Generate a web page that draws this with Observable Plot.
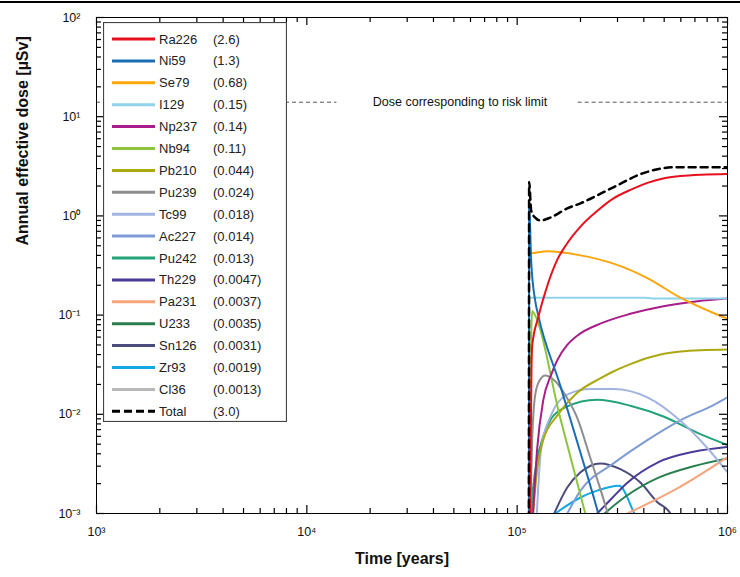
<!DOCTYPE html>
<html><head><meta charset="utf-8">
<script src="https://cdn.jsdelivr.net/npm/d3@7"></script>
<script src="https://cdn.jsdelivr.net/npm/@observablehq/plot@0.6"></script>
<style>
body{margin:0;background:#fff;font-family:"Liberation Sans",Arial,sans-serif;}
#wrap{position:relative;width:740px;height:577px;}
#topline{position:absolute;left:0;top:1px;width:740px;height:2px;background:#000;}
#legend{position:absolute;left:103px;top:22px;}
</style></head><body>
<div id="wrap"><div id="chart"></div><div id="topline"></div><div id="legend"></div></div>
<script>
// ---- legend / series metadata ----
const names = ["Ra226","Ni59","Se79","I129","Np237","Nb94","Pb210","Pu239","Tc99","Ac227","Pu242","Th229","Pa231","U233","Sn126","Zr93","Cl36"];
const maxLabels = ["(2.6)","(1.3)","(0.68)","(0.15)","(0.14)","(0.11)","(0.044)","(0.024)","(0.018)","(0.014)","(0.013)","(0.0047)","(0.0037)","(0.0035)","(0.0031)","(0.0019)","(0.0013)"];
const colors = ["#e8101e","#1a6db5","#fca60b","#8fd3eb","#a81d8a","#8cc43c","#aca80f","#8e8e8e","#a1b4e0","#7f9bd4","#22a37a","#4a3b98","#f7a57c","#2b7f4f","#4c4c7c","#12a8e2","#b8b8b8"];
const totalName = "Total";
const totalLabel = "(3.0)";

// ---- series values: [time (years), annual effective dose (µSv)] ----
const Ra226 = [[1.152e5,0.0006],[1.16e5,0.005],[1.17e5,0.03],[1.18e5,0.05],[1.26e5,0.095],[1.36e5,0.17],[1.55e5,0.36],[1.73e5,0.53],[2.0e5,0.78],[2.4e5,1.12],[2.87e5,1.5],[3.5e5,1.85],[4.16e5,2.15],[5.0e5,2.4],[5.97e5,2.52],[7.5e5,2.6],[1e6,2.64]];
const Ni59 = [[1.137e5,0.0005],[1.14e5,1.3],[1.166e5,0.35],[1.218e5,0.14],[1.259e5,0.1],[1.6e5,0.0197],[2.0e5,0.0041],[2.43e5,0.001],[2.5e5,0.0008]];
const Se79 = [[1.137e5,0.0005],[1.14e5,0.68],[1.153e5,0.42],[1.39e5,0.44],[2.0e5,0.40],[2.87e5,0.33],[4.16e5,0.236],[5.97e5,0.15],[8.58e5,0.105],[1e6,0.092]];
const I129 = [[1.137e5,0.0005],[1.14e5,0.15],[1.153e5,0.15],[4.0e5,0.15],[4.4e5,0.147],[1e6,0.147]];
const Np237 = [[1.19e5,0.001],[1.245e5,0.0045],[1.33e5,0.0138],[1.45e5,0.025],[1.55e5,0.035],[1.73e5,0.05],[1.93e5,0.062],[2.485e5,0.082],[3.45e5,0.103],[4.96e5,0.123],[7.2e5,0.138],[1e6,0.147]];
const Nb94 = [[1.14e5,0.0005],[1.153e5,0.003],[1.166e5,0.06],[1.179e5,0.11],[1.2e5,0.105],[1.6e5,0.0093],[2.108e5,0.001],[2.2e5,0.0007]];
const Pb210 = [[1.19e5,0.001],[1.245e5,0.0028],[1.33e5,0.0055],[1.55e5,0.0097],[1.73e5,0.013],[1.93e5,0.0165],[2.485e5,0.023],[2.865e5,0.027],[3.45e5,0.032],[4.16e5,0.037],[5.97e5,0.043],[1e6,0.045]];
const Pu239 = [[1.15e5,0.0008],[1.18e5,0.006],[1.22e5,0.016],[1.28e5,0.022],[1.36e5,0.0246],[1.5e5,0.022],[1.73e5,0.0145],[1.93e5,0.0092],[2.23e5,0.0036],[2.5e5,0.0017],[2.7e5,0.001],[2.8e5,0.0008]];
const Tc99 = [[1.24e5,0.001],[1.3e5,0.0045],[1.44e5,0.0095],[1.73e5,0.0158],[2.23e5,0.018],[2.87e5,0.018],[4.16e5,0.0148],[5.97e5,0.0086],[8.0e5,0.0046],[1e6,0.0026]];
const Ac227 = [[1.73e5,0.001],[2.0e5,0.0017],[2.87e5,0.0032],[4.16e5,0.0055],[5.97e5,0.0087],[8.58e5,0.0124],[1e6,0.0148]];
const Pu242 = [[1.17e5,0.0008],[1.19e5,0.0018],[1.33e5,0.006],[1.45e5,0.009],[1.7e5,0.0118],[2.4e5,0.014],[3.45e5,0.0122],[4.96e5,0.0095],[7.2e5,0.0065],[1e6,0.0049]];
const Th229 = [[2.4e5,0.001],[2.8e5,0.0014],[3.3e5,0.002],[4.7e5,0.0033],[6.9e5,0.0042],[1e6,0.0047]];
const Pa231 = [[3.34e5,0.001],[5.8e5,0.0018],[1e6,0.0037]];
const U233 = [[2.6e5,0.001],[3.3e5,0.0015],[4.7e5,0.0023],[6.9e5,0.003],[1e6,0.0036]];
const Sn126 = [[1.5e5,0.001],[1.73e5,0.00183],[2.0e5,0.0026],[2.485e5,0.0032],[3.094e5,0.0028],[3.853e5,0.00205],[4.642e5,0.0013],[5.353e5,0.001],[5.6e5,0.0008]];
const Zr93 = [[1.517e5,0.001],[2.0e5,0.00145],[2.4e5,0.0017],[3.05e5,0.0019],[3.607e5,0.001],[3.7e5,0.0009]];
const Cl36 = [[1.14e5,0.0005],[1.155e5,0.0013],[1.17e5,0.0009],[1.18e5,0.0006]];
const Total = [[1.137e5,0.0005],[1.14e5,2.2],[1.166e5,1.13],[1.218e5,0.96],[1.287e5,0.9],[1.436e5,0.96],[1.73e5,1.19],[2.0e5,1.34],[2.865e5,1.94],[3.98e5,2.7],[5.78e5,3.1],[1e6,3.1]];

// ---- risk limit ----
const riskDose = 14;
const riskSegments = [[1e3,1.39e4],[1.95e5,1e6]];
const riskText = "Dose corresponding to risk limit";
const riskTextTime = 5.35e4;

// ---- axes ----
const majorX = [1e3,1e4,1e5,1e6];
const majorY = [1e-3,1e-2,1e-1,1e0,1e1,1e2];
const mult = [2,3,4,5,6,7,8,9];
const minorX = majorX.slice(0,-1).flatMap(d => mult.map(m => d*m));
const minorY = majorY.slice(0,-1).flatMap(d => mult.map(m => d*m));
const xTitle = "Time [years]";
const yTitle = "Annual effective dose [µSv]";

const supMap = {"-":"⁻","0":"⁰","1":"¹","2":"²","3":"³","4":"⁴","5":"⁵","6":"⁶","7":"⁷","8":"⁸","9":"⁹"};
const fmt = d => "10" + String(Math.round(Math.log10(d))).split("").map(c => supMap[c]).join("");

const seriesArrays = [Ra226,Ni59,Se79,I129,Np237,Nb94,Pb210,Pu239,Tc99,Ac227,Pu242,Th229,Pa231,U233,Sn126,Zr93,Cl36];
const rows = names.flatMap((n,i) => seriesArrays[i].map(([t,v]) => ({n,t,v}))).reverse();
const totalRows = Total.map(([t,v]) => ({t,v}));
const riskRows = riskSegments.map(([a,b]) => ({a,b,v:riskDose}));

// layout
const W0 = 740, H0 = 577, mL = 96, mR = 13, mT = 17, mB = 64;
const fw = W0 - mL - mR, fh = H0 - mT - mB;

// inward ticks on all four sides, as insetted rules
const tickMarks = (vals, len, side) => {
  const o = {stroke: "#000", strokeWidth: 1.2};
  if (side === "bottom") return Plot.ruleX(vals, {...o, insetTop: fh - len});
  if (side === "top") return Plot.ruleX(vals, {...o, insetBottom: fh - len});
  if (side === "left") return Plot.ruleY(vals, {...o, insetRight: fw - len});
  return Plot.ruleY(vals, {...o, insetLeft: fw - len});
};

const font = "'Liberation Sans', Arial, sans-serif";
const plot = Plot.plot({
  width: W0, height: H0,
  marginLeft: mL, marginRight: mR, marginTop: mT, marginBottom: mB,
  style: {fontFamily: font, fontSize: "12px", color: "#111", background: "#fff"},
  x: {type: "log", domain: [1e3,1e6]},
  y: {type: "log", domain: [1e-3,1e2]},
  color: {domain: names, range: colors},
  marks: [
    Plot.ruleY(riskRows, {x1: "a", x2: "b", y: "v", stroke: "#555", strokeDasharray: "4,3", strokeWidth: 1}),
    Plot.text([riskText], {x: () => riskTextTime, y: () => riskDose, text: d => d, fontSize: 12.5, fill: "#111"}),
    Plot.line(rows, {x: "t", y: "v", z: "n", stroke: "n", strokeWidth: 2, curve: "monotone-x", clip: true}),
    Plot.line(totalRows, {x: "t", y: "v", stroke: "#000", strokeWidth: 2.5, strokeDasharray: "7,5", curve: "monotone-x", clip: true}),
    tickMarks(majorX, 8, "bottom"), tickMarks(minorX, 5, "bottom"),
    tickMarks(majorX, 8, "top"), tickMarks(minorX, 5, "top"),
    tickMarks(majorY, 8, "left"), tickMarks(minorY, 5, "left"),
    tickMarks(majorY, 8, "right"), tickMarks(minorY, 5, "right"),
    Plot.frame({stroke: "#000", strokeWidth: 1}),
    // tick labels
    Plot.axisX({anchor: "bottom", ticks: majorX, tickSize: 0, tickPadding: 14, tickFormat: fmt, label: null, fontSize: 12.5}),
    Plot.axisY({anchor: "left", ticks: majorY, tickSize: 0, tickPadding: 16, tickFormat: fmt, label: null, fontSize: 12.5}),
    // titles
    Plot.text([xTitle], {frameAnchor: "bottom", dy: 50, dx: -10, text: d => d, fontWeight: "bold", fontSize: 16, fill: "#111"}),
    Plot.text([yTitle], {frameAnchor: "left", rotate: -90, dx: -74, dy: -20, text: d => d, fontWeight: "bold", fontSize: 16, fill: "#111"})
  ]
});
document.getElementById("chart").appendChild(plot);

// ---- legend (HTML overlay built from the arrays) ----
const legNames = [...names, totalName];
const legLabels = [...maxLabels, totalLabel];
const legColors = [...colors, "#000"];
const W = 184, H = 400, rowH = 21.9, y0 = 17;
const svg = d3.select("#legend").append("svg").attr("width", W).attr("height", H)
  .style("font-family", font).style("font-size", "13px");
svg.append("rect").attr("x", 0.5).attr("y", 0.5).attr("width", W-1).attr("height", H-1)
  .attr("fill", "#fff").attr("stroke", "#444").attr("stroke-width", 1.2);
const g = svg.selectAll("g.row").data(legNames).join("g").attr("transform", (d,i) => `translate(0,${y0 + i*rowH})`);
g.append("line").attr("x1", 9).attr("x2", 52).attr("stroke", (d,i) => legColors[i]).attr("stroke-width", 3)
  .attr("stroke-dasharray", (d,i) => i === legNames.length-1 ? "8,4" : null);
g.append("text").attr("x", 56).attr("dy", "0.35em").attr("fill", "#222").text(d => d);
g.append("text").attr("x", 110).attr("dy", "0.35em").attr("fill", "#222").text((d,i) => legLabels[i]);
</script>
</body></html>
